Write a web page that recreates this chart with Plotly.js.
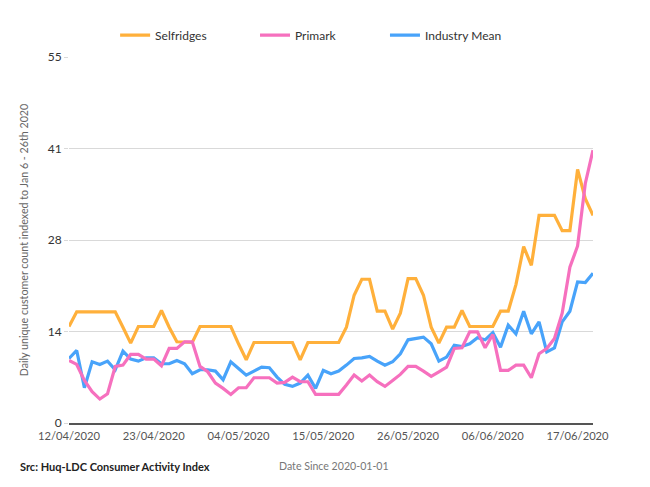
<!DOCTYPE html>
<html>
<head>
<meta charset="utf-8">
<script src="https://cdn.plot.ly/plotly-3.0.1.min.js"></script>
<style>
  html, body { margin: 0; padding: 0; background: #fff; }
  #chart { width: 650px; height: 487px; }
</style>
</head>
<body>
<div id="chart"></div>
<script>
// ---- Data ----
var startDate = '2020-04-12';
var seriesNames = ['Selfridges', 'Primark', 'Industry Mean'];

var selfridges = [
  14.5, 16.7, 16.7, 16.7, 16.7, 16.7, 16.7, 14.4, 12.0, 14.5,
  14.5, 14.5, 16.9, 14.4, 12.2, 12.1, 12.1, 14.5, 14.5, 14.5,
  14.5, 14.5, 11.9, 9.5, 12.1, 12.1, 12.1, 12.1, 12.1, 12.1,
  9.5, 12.1, 12.1, 12.1, 12.1, 12.1, 14.4, 19.2, 21.6, 21.6,
  16.8, 16.8, 14.1, 16.5, 21.7, 21.7, 19.2, 14.4, 12.0, 14.4,
  14.4, 16.9, 14.5, 14.5, 14.5, 14.5, 16.8, 16.8, 20.8, 26.5,
  23.7, 31.2, 31.2, 31.2, 28.9, 28.9, 38.1, 33.7, 31.2
];

var primark = [
  9.4, 8.8, 6.4, 4.7, 3.6, 4.4, 8.5, 8.7, 10.3, 10.3,
  9.6, 9.6, 8.6, 11.2, 11.2, 12.2, 12.2, 8.5, 7.7, 6.0,
  5.2, 4.3, 5.3, 5.3, 6.8, 6.8, 6.8, 6.0, 6.1, 6.9,
  6.2, 6.2, 4.3, 4.3, 4.3, 4.3, 5.7, 7.2, 6.3, 7.2,
  6.2, 5.5, 6.4, 7.3, 8.5, 8.5, 7.8, 7.0, 7.7, 8.4,
  11.2, 11.3, 13.7, 13.7, 11.3, 13.3, 7.9, 7.9, 8.7, 8.7,
  6.8, 10.4, 11.2, 12.7, 16.5, 23.4, 26.6, 36.0, 41.0
];

var industryMean = [
  9.7, 10.9, 5.3, 9.2, 8.8, 9.3, 8.0, 10.8, 9.6, 9.3,
  9.8, 9.8, 8.9, 8.9, 9.4, 8.9, 7.4, 8.0, 8.0, 7.8,
  6.5, 9.2, 8.2, 7.2, 7.8, 8.4, 8.3, 6.9, 5.8, 5.5,
  6.0, 7.2, 5.2, 7.9, 7.4, 7.8, 8.7, 9.7, 9.8, 10.0,
  9.3, 8.7, 9.2, 10.4, 12.5, 12.7, 12.9, 11.9, 9.3, 9.9,
  11.7, 11.5, 11.9, 12.8, 12.5, 13.6, 11.4, 14.7, 13.4, 16.8,
  13.4, 15.2, 10.7, 11.3, 15.2, 16.8, 21.2, 21.1, 22.5
];

var yTickVals = [0, 13.75, 27.5, 41.25, 55];
var yTickText = ['0', '14', '28', '41', '55'];

// build date axis values
function buildDates(start, n) {
  var out = [];
  var d0 = new Date(start + 'T00:00:00Z');
  for (var i = 0; i < n; i++) {
    var d = new Date(d0.getTime() + i * 86400000);
    out.push(d.toISOString().slice(0, 10));
  }
  return out;
}
var dates = buildDates(startDate, selfridges.length);

var colors = ['rgb(255,176,59)', 'rgb(246,112,190)', 'rgb(72,163,250)'];
var values = [selfridges, primark, industryMean];
var legendIds = ['legend', 'legend2', 'legend3'];

var traces = seriesNames.map(function (name, i) {
  return {
    type: 'scatter',
    mode: 'lines',
    name: name,
    x: dates,
    y: values[i],
    legend: legendIds[i],
    line: { color: colors[i], width: 3.2 },
    hoverinfo: 'x+y+name'
  };
});
// draw order: industry mean below primark
traces = [traces[0], traces[2], traces[1]];

function legendAt(x) {
  return {
    orientation: 'h',
    x: x,
    xanchor: 'left',
    y: 1.06,
    yanchor: 'middle',
    bgcolor: 'rgba(0,0,0,0)',
    font: { family: 'Lato, sans-serif', size: 12, color: '#333' }
  };
}

var layout = {
  width: 650,
  height: 487,
  margin: { l: 69, r: 57, t: 57, b: 64 },
  paper_bgcolor: '#ffffff',
  plot_bgcolor: '#ffffff',
  font: { family: 'Lato, "Open Sans", sans-serif', size: 12, color: '#333' },
  showlegend: true,
  legend: legendAt(0.088),
  legend2: legendAt(0.355),
  legend3: legendAt(0.603),
  xaxis: {
    type: 'date',
    range: [dates[0], dates[dates.length - 1]],
    tick0: startDate,
    dtick: 11 * 86400000,
    tickformat: '%d/%m/%Y',
    showgrid: false,
    zeroline: false,
    showline: true,
    linecolor: '#555',
    linewidth: 1.5,
    ticks: '',
    ticklabelstandoff: 2,
    tickfont: { family: 'Lato, sans-serif', size: 11.2, color: '#555' }
  },
  yaxis: {
    range: [0, 55],
    tickmode: 'array',
    tickvals: yTickVals,
    ticktext: yTickText,
    showgrid: true,
    gridcolor: '#d9d9d9',
    gridwidth: 1,
    zeroline: false,
    showline: false,
    ticks: 'outside',
    ticklen: 4,
    tickcolor: '#d9d9d9',
    tickfont: { family: 'Lato, sans-serif', size: 12, color: '#333' },
    title: {
      text: 'Daily unique customer count indexed to Jan 6 - 26th 2020',
      font: { family: 'Lato, sans-serif', size: 10.7, color: '#666' },
      standoff: 16
    }
  },
  annotations: [
    {
      xref: 'paper', yref: 'paper',
      x: -0.0973, y: -0.1175,
      xanchor: 'left', yanchor: 'middle',
      text: '<b>Src: Huq-LDC Consumer Activity Index</b>',
      showarrow: false,
      font: { family: 'Lato, sans-serif', size: 11, color: '#222' }
    },
    {
      xref: 'paper', yref: 'paper',
      x: 0.397, y: -0.1175,
      xanchor: 'left', yanchor: 'middle',
      text: 'Date Since 2020-01-01',
      showarrow: false,
      font: { family: 'Lato, sans-serif', size: 10.6, color: '#777' }
    }
  ]
};

Plotly.newPlot('chart', traces, layout, { displayModeBar: false });
</script>
</body>
</html>
